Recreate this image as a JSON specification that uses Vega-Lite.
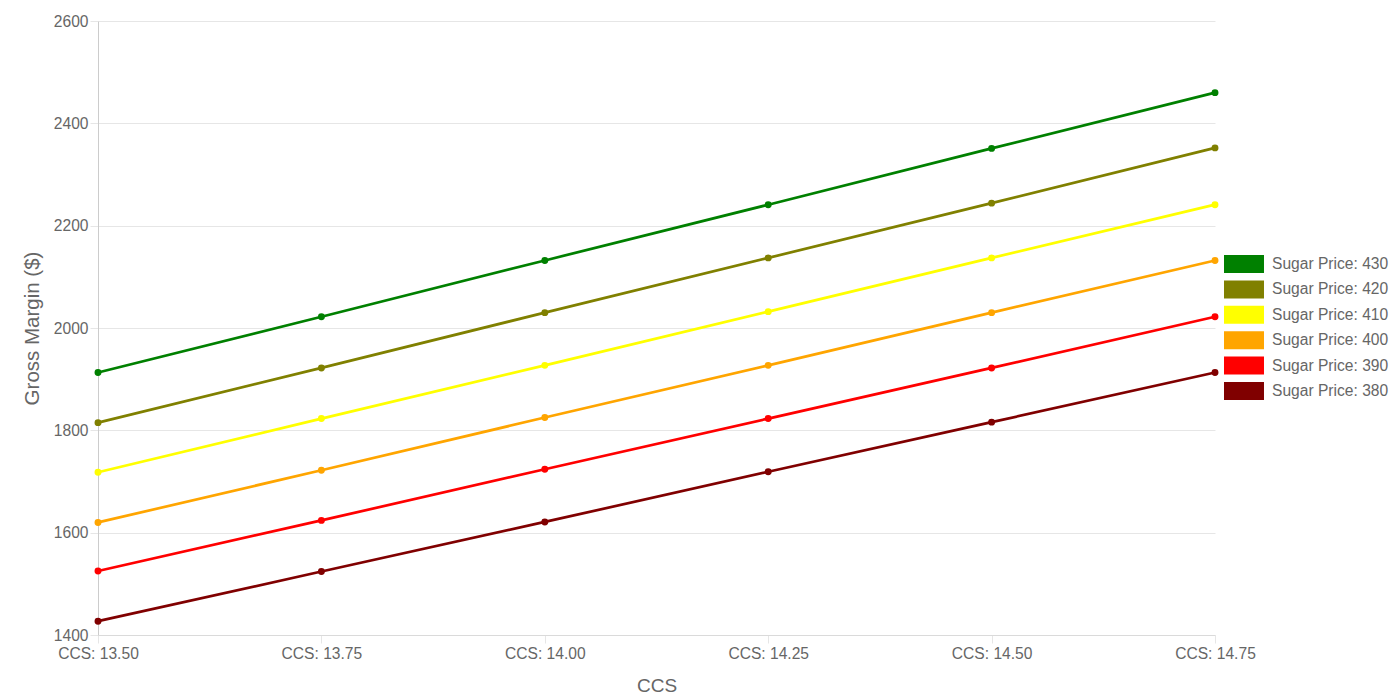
{
  "$schema": "https://vega.github.io/schema/vega-lite/v6.json",
  "width": 1117,
  "height": 614,
  "autosize": {"type": "none"},
  "padding": {"left": 98, "top": 21, "right": 185, "bottom": 65},
  "background": "white",
  "config": {
    "font": "Liberation Sans",
    "view": {"stroke": null},
    "axis": {
      "labelColor": "#666666",
      "labelFontSize": 15.6,
      "titleColor": "#666666",
      "titleFontWeight": "normal",
      "gridColor": "#e6e6e6",
      "tickColor": "#e6e6e6",
      "tickSize": 8
    }
  },
  "data": {
    "values": [
      {"ccs": "CCS: 13.50", "price": "Sugar Price: 430", "gm": 1913},
      {"ccs": "CCS: 13.75", "price": "Sugar Price: 430", "gm": 2022},
      {"ccs": "CCS: 14.00", "price": "Sugar Price: 430", "gm": 2132},
      {"ccs": "CCS: 14.25", "price": "Sugar Price: 430", "gm": 2241},
      {"ccs": "CCS: 14.50", "price": "Sugar Price: 430", "gm": 2351},
      {"ccs": "CCS: 14.75", "price": "Sugar Price: 430", "gm": 2460},
      {"ccs": "CCS: 13.50", "price": "Sugar Price: 420", "gm": 1815},
      {"ccs": "CCS: 13.75", "price": "Sugar Price: 420", "gm": 1922},
      {"ccs": "CCS: 14.00", "price": "Sugar Price: 420", "gm": 2030},
      {"ccs": "CCS: 14.25", "price": "Sugar Price: 420", "gm": 2137},
      {"ccs": "CCS: 14.50", "price": "Sugar Price: 420", "gm": 2244},
      {"ccs": "CCS: 14.75", "price": "Sugar Price: 420", "gm": 2352},
      {"ccs": "CCS: 13.50", "price": "Sugar Price: 410", "gm": 1718},
      {"ccs": "CCS: 13.75", "price": "Sugar Price: 410", "gm": 1823},
      {"ccs": "CCS: 14.00", "price": "Sugar Price: 410", "gm": 1927},
      {"ccs": "CCS: 14.25", "price": "Sugar Price: 410", "gm": 2032},
      {"ccs": "CCS: 14.50", "price": "Sugar Price: 410", "gm": 2137},
      {"ccs": "CCS: 14.75", "price": "Sugar Price: 410", "gm": 2241},
      {"ccs": "CCS: 13.50", "price": "Sugar Price: 400", "gm": 1620},
      {"ccs": "CCS: 13.75", "price": "Sugar Price: 400", "gm": 1722},
      {"ccs": "CCS: 14.00", "price": "Sugar Price: 400", "gm": 1825},
      {"ccs": "CCS: 14.25", "price": "Sugar Price: 400", "gm": 1927},
      {"ccs": "CCS: 14.50", "price": "Sugar Price: 400", "gm": 2030},
      {"ccs": "CCS: 14.75", "price": "Sugar Price: 400", "gm": 2132},
      {"ccs": "CCS: 13.50", "price": "Sugar Price: 390", "gm": 1525},
      {"ccs": "CCS: 13.75", "price": "Sugar Price: 390", "gm": 1624},
      {"ccs": "CCS: 14.00", "price": "Sugar Price: 390", "gm": 1724},
      {"ccs": "CCS: 14.25", "price": "Sugar Price: 390", "gm": 1823},
      {"ccs": "CCS: 14.50", "price": "Sugar Price: 390", "gm": 1922},
      {"ccs": "CCS: 14.75", "price": "Sugar Price: 390", "gm": 2022},
      {"ccs": "CCS: 13.50", "price": "Sugar Price: 380", "gm": 1427},
      {"ccs": "CCS: 13.75", "price": "Sugar Price: 380", "gm": 1524},
      {"ccs": "CCS: 14.00", "price": "Sugar Price: 380", "gm": 1621},
      {"ccs": "CCS: 14.25", "price": "Sugar Price: 380", "gm": 1719},
      {"ccs": "CCS: 14.50", "price": "Sugar Price: 380", "gm": 1816},
      {"ccs": "CCS: 14.75", "price": "Sugar Price: 380", "gm": 1913}
    ]
  },
  "encoding": {
    "x": {
      "field": "ccs",
      "type": "ordinal",
      "sort": null,
      "scale": {"type": "point", "padding": 0},
      "title": "CCS",
      "axis": {
        "labelAngle": 0,
        "labelPadding": 3,
        "domainColor": "#dadada",
        "titleFontSize": 19,
        "titleBaseline": "middle",
        "titleY": 50
      }
    },
    "y": {
      "field": "gm",
      "type": "quantitative",
      "scale": {"domain": [1400, 2600], "nice": false, "zero": false},
      "title": "Gross Margin ($)",
      "axis": {
        "values": [1400, 1600, 1800, 2000, 2200, 2400, 2600],
        "format": "d",
        "labelPadding": 2,
        "domainColor": "#cccccc",
        "titleFontSize": 20.5,
        "titleBaseline": "middle",
        "titleX": -66,
        "titleY": 307
      }
    },
    "color": {
      "field": "price",
      "type": "nominal",
      "sort": null,
      "scale": {
        "domain": ["Sugar Price: 430", "Sugar Price: 420", "Sugar Price: 410", "Sugar Price: 400", "Sugar Price: 390", "Sugar Price: 380"],
        "range": ["#008000", "#808000", "#ffff00", "#ffa500", "#ff0000", "#800000"]
      },
      "legend": {
        "title": null,
        "orient": "none",
        "legendX": 1126,
        "legendY": 234,
        "padding": 0,
        "symbolType": "M-1,-1H3.444V1H-1Z",
        "symbolSize": 324,
        "symbolStrokeWidth": 0,
        "symbolOpacity": 1,
        "labelOffset": 30,
        "labelFontSize": 15.6,
        "labelColor": "#666666",
        "rowPadding": 7.4,
        "encode": {
          "symbols": {
            "update": {
              "fill": {"scale": "color", "field": "value"},
              "stroke": {"scale": "color", "field": "value"},
              "strokeWidth": {"value": 0},
              "opacity": {"value": 1}
            }
          }
        }
      }
    }
  },
  "layer": [
    {"mark": {"type": "line", "strokeWidth": 2.7}},
    {"mark": {"type": "point", "filled": true, "size": 48, "opacity": 1}}
  ]
}
